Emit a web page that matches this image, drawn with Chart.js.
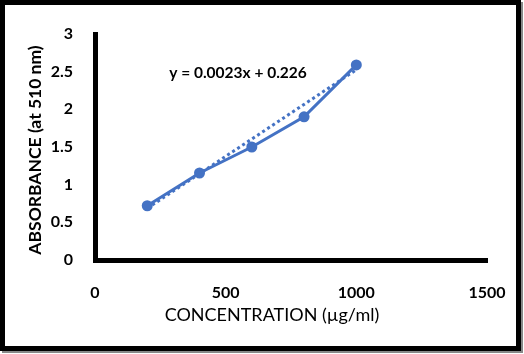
<!DOCTYPE html>
<html>
<head>
<meta charset="utf-8">
<script src="https://cdn.jsdelivr.net/npm/chart.js@4.4.1/dist/chart.umd.min.js"></script>
<style>
  html, body { margin: 0; padding: 0; background: #fff; }
  #frame {
    position: absolute; left: 0; top: 0; width: 521px; height: 351px;
    box-sizing: border-box; border: 5px solid #000;
    box-shadow: 2px 2px 0 #888;
  }
  #chart { position: absolute; left: 0; top: 0; }
</style>
</head>
<body>
<div id="frame"></div>
<canvas id="chart" width="524" height="354"></canvas>
<script>
// concentration (µg/ml) and absorbance
const concentration = [200, 400, 600, 800, 1000];
const absorbance = [0.72, 1.155, 1.5, 1.9, 2.59];

// linear trendline as printed on the chart
const slope = 0.0023;
const intercept = 0.226;
const equationText = "y = 0.0023x + 0.226";

const xTicks = [0, 500, 1000, 1500];
const yTicks = [0, 0.5, 1, 1.5, 2, 2.5, 3];

const xTitle = "CONCENTRATION (µg/ml)";
const yTitle = "ABSORBANCE (at 510 nm)";

const blue = "#4472C4";
const fontFamily = "Lato, 'Open Sans', sans-serif";

const points = concentration.map((x, i) => ({ x: x, y: absorbance[i] }));
const trendX = [concentration[0], concentration[concentration.length - 1]];
const trend = trendX.map((x) => ({ x: x, y: slope * x + intercept }));

// axis titles and the trendline equation
const labelsPlugin = {
  id: "labels",
  afterDraw(chart) {
    const ctx = chart.ctx;
    ctx.save();
    ctx.fillStyle = "#000";
    ctx.textAlign = "center";
    ctx.textBaseline = "middle";

    ctx.font = "bold 15.5px " + fontFamily;
    ctx.fillText(equationText, 238, 73);

    ctx.font = "18px " + fontFamily;
    ctx.fillText(xTitle, 272, 315);

    ctx.translate(35, 150);
    ctx.rotate(-Math.PI / 2);
    ctx.font = "bold 17.5px " + fontFamily;
    ctx.fillText(yTitle, 0, 0);
    ctx.restore();
  },
};

new Chart(document.getElementById("chart"), {
  type: "scatter",
  data: {
    datasets: [
      {
        label: "Absorbance",
        data: points,
        showLine: true,
        borderColor: blue,
        backgroundColor: blue,
        borderWidth: 3,
        pointRadius: 5.5,
        pointBackgroundColor: blue,
        pointBorderColor: blue,
        pointBorderWidth: 0,
        order: 1,
      },
      {
        label: "Linear trend",
        data: trend,
        showLine: true,
        borderColor: blue,
        borderWidth: 3,
        borderDash: [3, 3],
        pointRadius: 0,
        order: 2,
      },
    ],
  },
  options: {
    responsive: false,
    animation: false,
    layout: { padding: { top: 34, right: 37, bottom: 0, left: 0 } },
    plugins: {
      legend: { display: false },
      tooltip: { enabled: false },
    },
    scales: {
      x: {
        type: "linear",
        min: xTicks[0],
        max: xTicks[xTicks.length - 1],
        afterBuildTicks: (scale) => { scale.ticks = xTicks.map((v) => ({ value: v })); },
        afterFit: (scale) => { scale.height = 94; },
        ticks: {
          color: "#000",
          padding: 15,
          maxRotation: 0,
          font: { family: fontFamily, size: 16, weight: "bold" },
          callback: (v) => String(v),
        },
        grid: { display: false },
        border: { display: true, color: "#000", width: 5 },
      },
      y: {
        min: yTicks[0],
        max: yTicks[yTicks.length - 1],
        afterBuildTicks: (scale) => { scale.ticks = yTicks.map((v) => ({ value: v })); },
        afterFit: (scale) => { scale.width = 95; },
        ticks: {
          color: "#000",
          padding: 14,
          font: { family: fontFamily, size: 16, weight: "bold" },
          callback: (v) => String(v),
        },
        grid: { display: false },
        border: { display: true, color: "#000", width: 5 },
      },
    },
  },
  plugins: [labelsPlugin],
});
</script>
</body>
</html>
